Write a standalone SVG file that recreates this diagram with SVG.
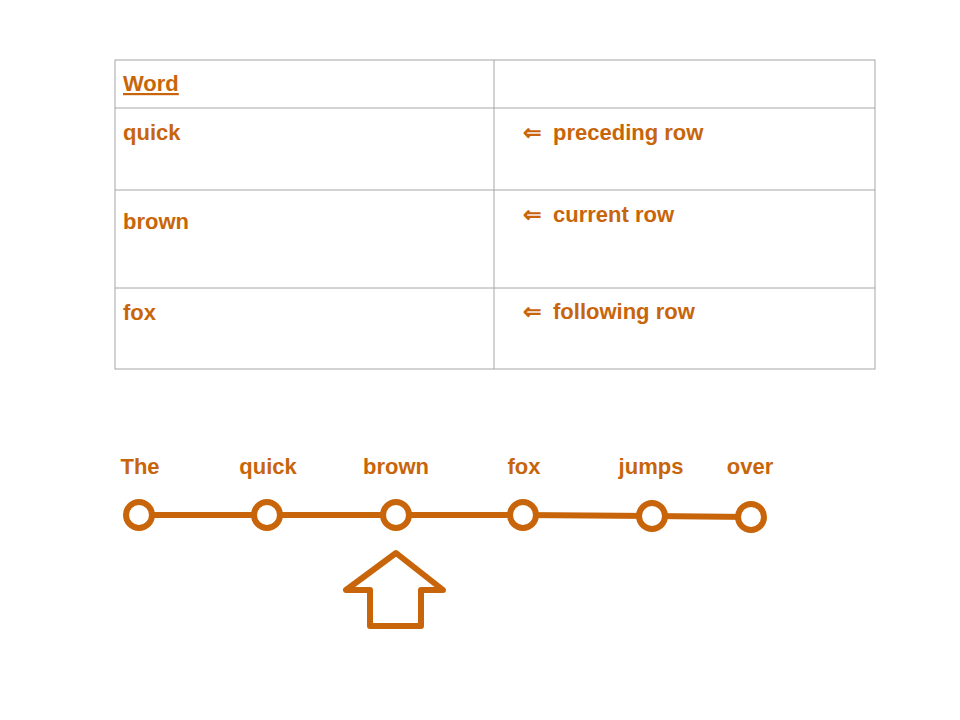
<svg xmlns="http://www.w3.org/2000/svg" width="960" height="720" viewBox="0 0 960 720">
<style>
text{font-family:"Liberation Sans",Arial,sans-serif;font-weight:bold;fill:#C8650A;font-size:22px}
.g{stroke:#A6A6A6;stroke-width:1;fill:none}
.n{fill:#fff;stroke:#C8650A;stroke-width:6}
.c{stroke:#C8650A;stroke-width:6;fill:none}
.m{text-anchor:middle}
</style>
<rect width="960" height="720" fill="#fff"/>
<g id="table">
<rect class="g" x="115" y="60" width="760" height="309"/>
<line class="g" x1="494" y1="60" x2="494" y2="369"/>
<line class="g" x1="115" y1="108" x2="875" y2="108"/>
<line class="g" x1="115" y1="190" x2="875" y2="190"/>
<line class="g" x1="115" y1="288" x2="875" y2="288"/>
<text x="123" y="91" text-decoration="underline">Word</text>
<text x="123" y="140">quick</text>
<text x="123" y="229" font-size="30">brown</text>
<text x="123" y="320">fox</text>
<text x="523" y="140" font-size="18" font-weight="normal">⇐</text><text x="553" y="140">preceding row</text>
<text x="523" y="222" font-size="18" font-weight="normal">⇐</text><text x="553" y="222">current row</text>
<text x="523" y="319" font-size="18" font-weight="normal">⇐</text><text x="553" y="319">following row</text>
</g>
<g id="connectors">
<polyline class="c" points="139,515 267,515 396,515 523,515 652,516 751,517"/>
</g>
<g id="n1"><circle class="n" cx="139" cy="515" r="13"/><text class="m" x="140" y="474">The</text></g>
<g id="n2"><circle class="n" cx="267" cy="515" r="13"/><text class="m" x="268" y="474">quick</text></g>
<g id="n3"><circle class="n" cx="396" cy="515" r="13"/><text class="m" x="396" y="474">brown</text></g>
<g id="n4"><circle class="n" cx="523" cy="515" r="13"/><text class="m" x="524" y="474">fox</text></g>
<g id="n5"><circle class="n" cx="652" cy="516" r="13"/><text class="m" x="651" y="474">jumps</text></g>
<g id="n6"><circle class="n" cx="751" cy="517" r="13"/><text class="m" x="750" y="474">over</text></g>
<g id="pointer">
<polygon class="c" stroke-linejoin="round" points="396,553 346,590 370,590 370,626 421,626 421,590 443,590"/>
</g>
</svg>
